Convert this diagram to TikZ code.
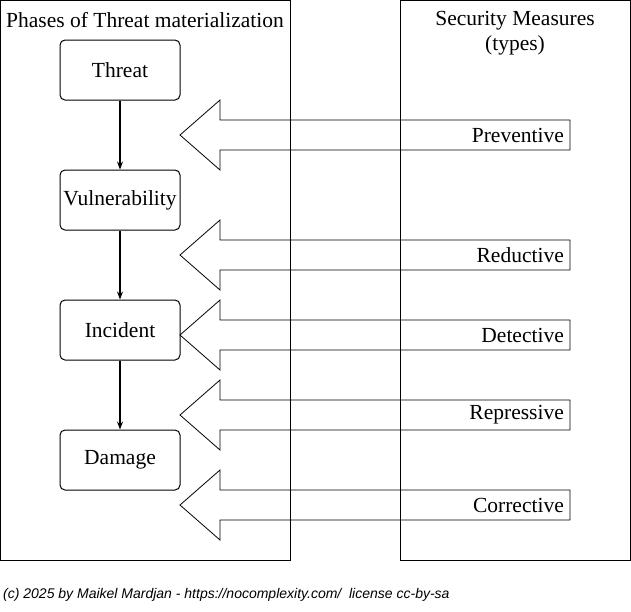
\documentclass[tikz,border=0pt]{standalone}
\usepackage{fontspec}
\setmainfont{Liberation Serif}
\setsansfont{Liberation Sans}
\usetikzlibrary{arrows.meta}
\begin{document}
\begin{tikzpicture}[x=1pt,y=-1pt,
  phase/.style={draw,line width=1pt,rounded corners=5pt,minimum width=120pt,minimum height=60pt,inner sep=1pt,font=\fontsize{21.5}{24}\selectfont},
  flow/.style={line width=1.2pt,-{Stealth[length=8pt]}},
  measure/.style={draw,line width=0.8pt},
  lab/.style={anchor=east,inner sep=1pt,font=\fontsize{21.5}{24}\selectfont},
  ttl/.style={font=\fontsize{21.5}{25}\selectfont,align=center,inner sep=1pt}]
\useasboundingbox (0,0) rectangle (631,611);
\draw[line width=0.8pt] (0,0) rectangle (290,560);
\draw[line width=0.8pt] (400,0) rectangle (630,560);
\node[ttl] (t1) at (145,20) {Phases of Threat materialization};
\node[ttl] (t2) at (515,33) {Security Measures\\(types)};
\node[phase] (threat) at (120,70) {Threat};
\node[phase] (vul) at (120,200) {Vulnerability};
\node[phase] (inc) at (120,330) {Incident};
\node[phase] (dam) at (120,460) {Damage};
\draw[flow] (threat) -- (vul);
\draw[flow] (vul) -- (inc);
\draw[flow] (inc) -- (dam);
\foreach \c/\t in {135/Preventive,255/Reductive,335/Detective,415/Repressive,505/Corrective}{
  \draw[measure] (180,\c) -- (220,\c-35) -- (220,\c-15) -- (570,\c-15) -- (570,\c+15) -- (220,\c+15) -- (220,\c+35) -- cycle;
  \node[lab] (m\t) at (565,\c) {\t};
}
\node[anchor=west,inner sep=1pt,font=\sffamily\itshape\fontsize{14}{16}\selectfont] (foot) at (2,595) {(c) 2025 by Maikel Mardjan - https://nocomplexity.com/\ \ license cc-by-sa};
\end{tikzpicture}
\end{document}
